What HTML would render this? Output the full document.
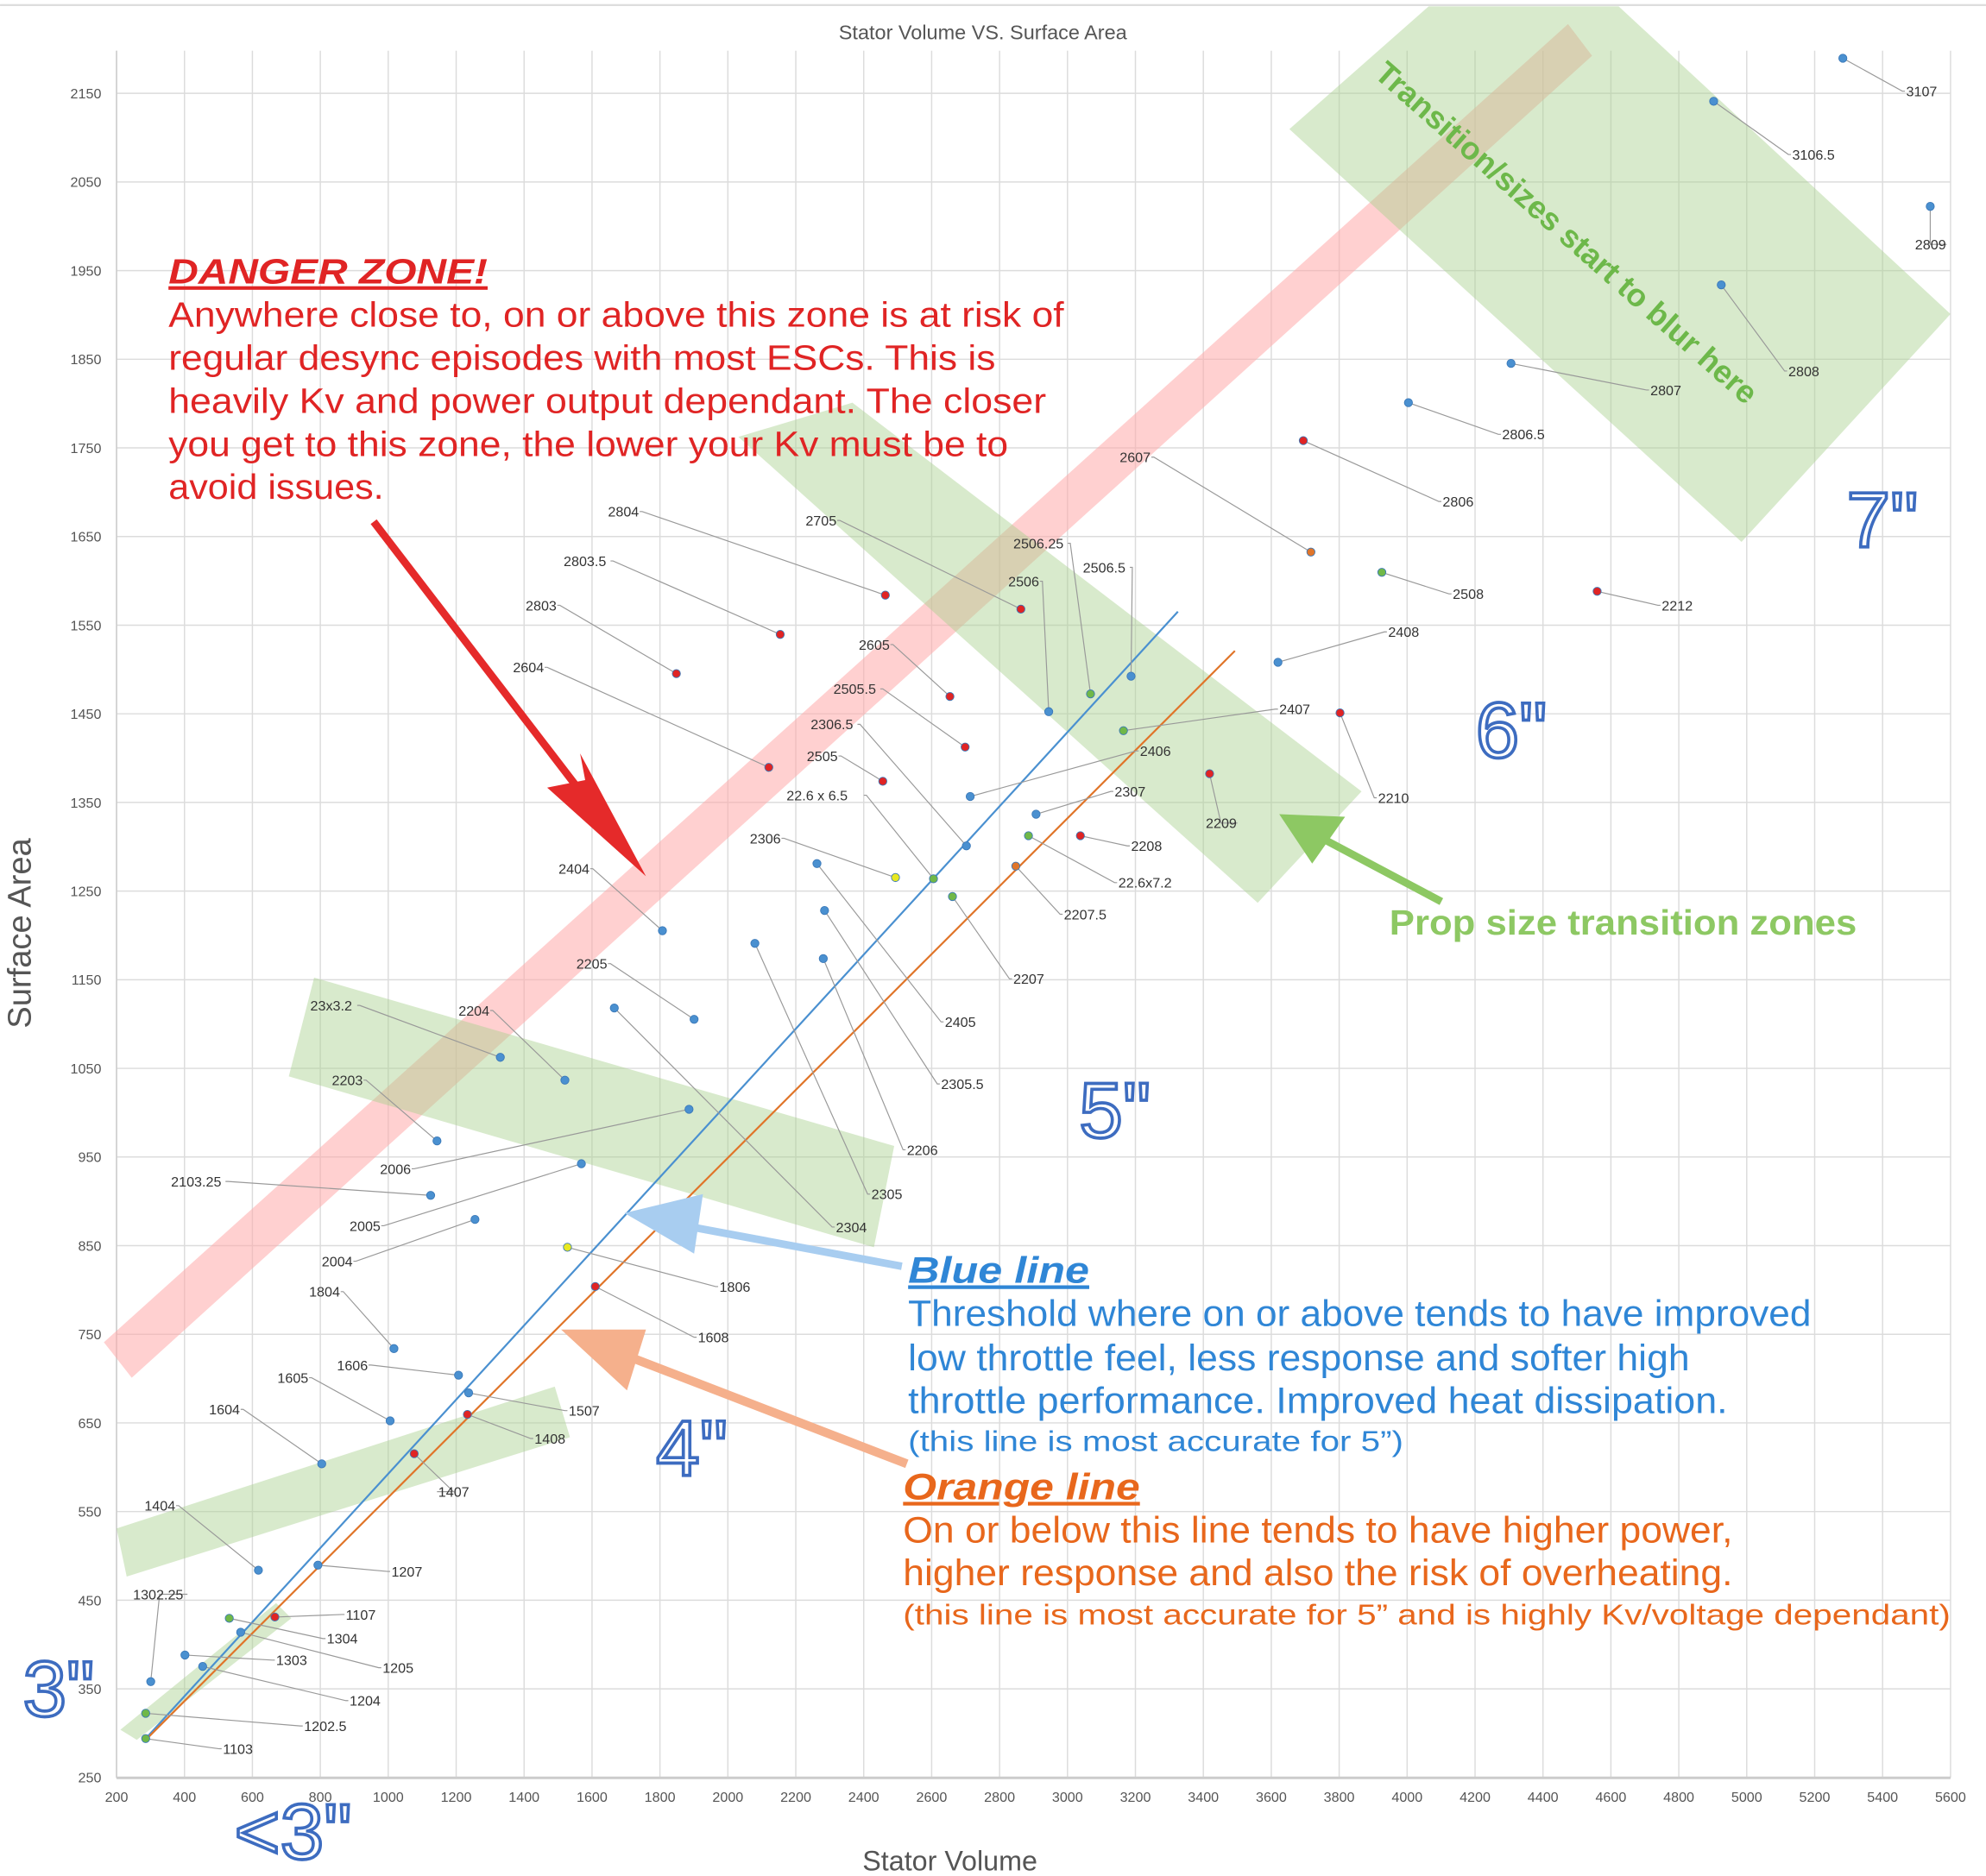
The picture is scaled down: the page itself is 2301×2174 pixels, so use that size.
<!DOCTYPE html>
<html><head><meta charset="utf-8"><style>
html,body{margin:0;padding:0;background:#fff}
svg{display:block}
text{font-family:"Liberation Sans",sans-serif}
.t{font-size:11px;fill:#555}
.l{font-size:11px;fill:#333}
.big{font-size:62px;fill:#fff;stroke:#3d6cc0;stroke-width:2.5;font-family:"Liberation Sans",sans-serif}
</style></head><body>
<svg width="2301" height="2174" viewBox="0 0 1568 1481.5" xmlns="http://www.w3.org/2000/svg">
<rect width="1568" height="1482" fill="#fff"/>
<line x1="0" y1="4" x2="1568" y2="4" stroke="#ddd" stroke-width="1.5"/>
<g id="grid" stroke="#dcdcdc" stroke-width="1"></g>
<g id="ticks"></g>
<text x="776" y="31" text-anchor="middle" font-size="16" fill="#555">Stator Volume VS. Surface Area</text>
<text x="0" y="0" transform="translate(24,737) rotate(-90)" text-anchor="middle" font-size="26" fill="#555">Surface Area</text>
<text x="750" y="1477" text-anchor="middle" font-size="22" fill="#555">Stator Volume</text>

<polygon points="82,1060 1238,19 1257,44 104,1088" fill="#ffaaaa" opacity="0.55"/>
<polygon points="1018,102 1128,5 1278,5 1540,248 1375,428" fill="#a9d18e" opacity="0.45"/>
<polygon points="583,345 673,318 1075,625 993,713" fill="#a9d18e" opacity="0.45"/>
<polygon points="248,772 228,850 690,985 706,905" fill="#a9d18e" opacity="0.45"/>
<polygon points="92,1207 100,1245 450,1135 438,1095" fill="#a9d18e" opacity="0.45"/>
<polygon points="95,1366 108,1374 230,1278 218,1266" fill="#a9d18e" opacity="0.45"/>

<line x1="115" y1="1373" x2="930" y2="483" stroke="#4a90d0" stroke-width="1.5"/>
<line x1="117" y1="1372" x2="975" y2="514" stroke="#e0752a" stroke-width="1.5"/>

<g id="pts"></g>

<g>
<line x1="295" y1="412" x2="482" y2="656" stroke="#e52a2a" stroke-width="6"/>
<polygon points="510,692 432,622 462,616 458,595" fill="#e52a2a"/>
<line x1="1138" y1="712" x2="1040" y2="660" stroke="#8dc863" stroke-width="6"/>
<polygon points="1010,643 1062,645 1036,682" fill="#8dc863"/>
<line x1="712" y1="1000" x2="530" y2="966" stroke="#a8cdf0" stroke-width="6"/>
<polygon points="493,958 555,943 548,990" fill="#a8cdf0"/>
<line x1="716" y1="1156" x2="480" y2="1065" stroke="#f5b08c" stroke-width="7"/>
<polygon points="443,1050 510,1050 495,1098" fill="#f5b08c"/>
</g>

<text class="big" x="1458" y="432">7"</text>
<text class="big" x="1165" y="598">6"</text>
<text class="big" x="852" y="898">5"</text>
<text class="big" x="518" y="1165">4"</text>
<text class="big" x="18" y="1355">3"</text>
<text class="big" x="185" y="1468">&lt;3"</text>

<g fill="#e02424" font-size="28">
<text x="133" y="224" font-weight="bold" font-style="italic" text-decoration="underline" textLength="252" lengthAdjust="spacingAndGlyphs">DANGER ZONE!</text>
<text x="133" y="258" textLength="707" lengthAdjust="spacingAndGlyphs">Anywhere close to, on or above this zone is at risk of</text>
<text x="133" y="292" textLength="653" lengthAdjust="spacingAndGlyphs">regular desync episodes with most ESCs. This is</text>
<text x="133" y="326" textLength="693" lengthAdjust="spacingAndGlyphs">heavily Kv and power output dependant. The closer</text>
<text x="133" y="360" textLength="663" lengthAdjust="spacingAndGlyphs">you get to this zone, the lower your Kv must be to</text>
<text x="133" y="394" textLength="170" lengthAdjust="spacingAndGlyphs">avoid issues.</text>
</g>
<g fill="#2f86d6" font-size="29">
<text x="717" y="1013" font-weight="bold" font-style="italic" text-decoration="underline" textLength="143" lengthAdjust="spacingAndGlyphs">Blue line</text>
<text x="717" y="1047" textLength="713" lengthAdjust="spacingAndGlyphs">Threshold where on or above tends to have improved</text>
<text x="717" y="1082" textLength="617" lengthAdjust="spacingAndGlyphs">low throttle feel, less response and softer high</text>
<text x="717" y="1116" textLength="647" lengthAdjust="spacingAndGlyphs">throttle performance. Improved heat dissipation.</text>
<text x="717" y="1146" font-size="23" textLength="391" lengthAdjust="spacingAndGlyphs">(this line is most accurate for 5”)</text>
</g>
<g fill="#e8671c" font-size="29">
<text x="713" y="1184" font-weight="bold" font-style="italic" text-decoration="underline" textLength="187" lengthAdjust="spacingAndGlyphs">Orange line</text>
<text x="713" y="1218" textLength="655" lengthAdjust="spacingAndGlyphs">On or below this line tends to have higher power,</text>
<text x="713" y="1252" textLength="655" lengthAdjust="spacingAndGlyphs">higher response and also the risk of overheating.</text>
<text x="713" y="1283" font-size="23" textLength="827" lengthAdjust="spacingAndGlyphs">(this line is most accurate for 5” and is highly Kv/voltage dependant)</text>
</g>
<text x="1097" y="738" font-size="28" font-weight="bold" fill="#8dc863" textLength="369" lengthAdjust="spacingAndGlyphs">Prop size transition zones</text>
<text x="0" y="0" transform="translate(1084,60) rotate(41.5)" font-size="25" font-weight="bold" fill="#6db84a">Transition/sizes start to blur here</text>

<script>
(function(){
var NS="http://www.w3.org/2000/svg";
function el(p,n,a,t){var e=document.createElementNS(NS,n);for(var k in a)e.setAttribute(k,a[k]);if(t!=null)e.textContent=t;p.appendChild(e);return e;}
var g=document.getElementById('grid'),tk=document.getElementById('ticks');
function X(v){return 92+(v-200)*0.26815;}
function Y(v){return 1403.7-(v-250)*0.7;}
for(var v=200;v<=5600;v+=200){el(g,'line',{x1:X(v),y1:40,x2:X(v),y2:1404});el(tk,'text',{x:X(v),y:1423,'text-anchor':'middle','class':'t'},v);}
for(var v=250;v<=2150;v+=100){el(g,'line',{x1:92,y1:Y(v),x2:1540,y2:Y(v)});el(tk,'text',{x:80,y:Y(v)+4,'text-anchor':'end','class':'t'},v);}
el(g,'line',{x1:92,y1:40,x2:92,y2:1404,stroke:'#ccc'});
el(g,'line',{x1:92,y1:1404,x2:1540,y2:1404,stroke:'#ccc','stroke-width':2});
var B='#4a90d0',R='#e02424',G='#70b848',O='#e0752a',Yc='#e8e820';
var P=[
['3107',1455,46,1505,76,B],['3106.5',1353,80,1415,126,B],['2809',1524,163,1512,197,B],['2808',1359,225,1412,297,B],
['2807',1193,287,1303,312,B],['2806.5',1112,318,1186,347,B],['2806',1029,348,1139,400,R],['2607',1035,436,884,365,O],
['2508',1091,452,1147,473,G],['2212',1261,467,1312,482,R],['2408',1009,523,1096,503,B],['2407',887,577,1010,564,G],
['2210',1058,563,1088,634,R],['2406',766,629,900,597,B],['2209',955,611,952,654,R],['2506.25',861,548,800,433,G],
['2506.5',893,534,855,452,B],['2506',828,562,796,463,B],['2705',806,481,636,415,R],['2804',699,470,480,408,R],
['2803.5',616,501,445,447,R],['2803',534,532,415,482,R],['2604',607,606,405,531,R],['2605',750,550,678,513,R],
['2505.5',762,590,658,548,R],['2306.5',763,668,640,576,B],['2505',697,617,637,601,R],['22.6 x 6.5',737,694,621,632,G],
['2307',818,643,880,629,B],['2208',853,660,893,672,R],['22.6x7.2',812,660,883,701,G],['2207.5',802,684,840,726,O],
['2306',707,693,592,666,Yc],['2207',752,708,800,777,G],['2404',523,735,441,690,B],['2405',645,682,746,811,B],
['2305.5',651,719,743,860,B],['2206',650,757,716,912,B],['2305',596,745,688,947,B],['2304',485,796,660,973,B],
['2205',548,805,455,765,B],['2204',446,853,362,802,B],['23x3.2',395,835,245,798,B],['2203',345,901,262,857,B],
['2006',544,876,300,927,B],['2103.25',340,944,135,937,B],['2005',459,919,276,972,B],['2004',375,963,254,1000,B],
['1806',448,985,568,1020,Yc],['1804',311,1065,244,1024,B],['1608',470,1016,551,1060,R],['1606',362,1086,266,1082,B],
['1605',308,1122,219,1092,B],['1507',370,1100,449,1118,B],['1604',254,1156,165,1117,B],['1408',369,1117,422,1140,R],
['1407',327,1148,346,1182,R],['1404',204,1240,114,1193,B],['1207',251,1236,309,1245,B],['1302.25',119,1328,105,1263,B],
['1107',217,1277,273,1279,R],['1304',181,1278,258,1298,G],['1205',190,1289,302,1321,B],['1303',146,1307,218,1315,B],
['1204',160,1316,276,1347,B],['1202.5',115,1353,240,1367,G],['1103',115,1373,176,1385,G]];
var pg=document.getElementById('pts');
P.forEach(function(p){
 var lx=p[3],ly=p[4],w=p[0].length*6;
 var right=lx>p[1];
 var ex=right?lx-3:lx+w+3;
 if(Math.abs(lx-p[1])<20){ex=lx+w/2;}
 el(pg,'polyline',{points:p[1]+','+p[2]+' '+ex+','+(ly-4)+' '+(right?lx-1:lx+w+1)+','+(ly-4),fill:'none',stroke:'#999','stroke-width':0.8});
 el(pg,'circle',{cx:p[1],cy:p[2],r:3.2,fill:p[5],stroke:'#3a78b8','stroke-width':0.6});
 el(pg,'text',{x:lx,y:ly,'class':'l'},p[0]);
});
})();
</script>
</svg>
</body></html>
